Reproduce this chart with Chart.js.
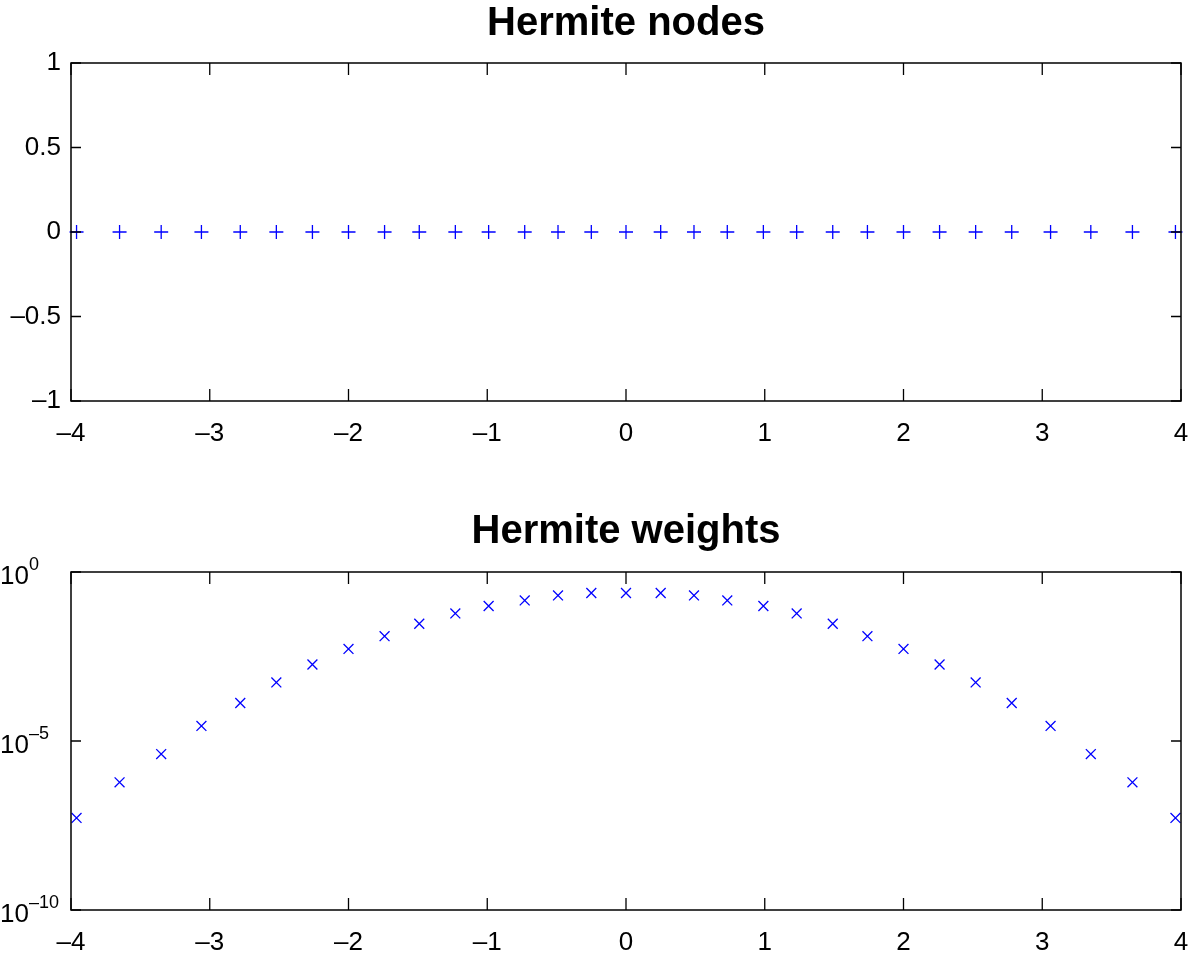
<!DOCTYPE html>
<html>
<head>
<meta charset="utf-8">
<title>Hermite nodes and weights</title>
<script src="https://cdn.jsdelivr.net/npm/chart.js@4.4.0/dist/chart.umd.min.js"></script>
<style>
  html, body { margin: 0; padding: 0; background: #fff; }
  .panel { position: absolute; left: 0; width: 1194px; }
  #nodesPanel { top: 0; height: 470px; }
  #weightsPanel { top: 470px; height: 489px; }
</style>
</head>
<body>
<div class="panel" id="nodesPanel"><canvas id="nodesChart"></canvas></div>
<div class="panel" id="weightsPanel"><canvas id="weightsChart"></canvas></div>
<script>
// quadrature nodes (31 points) and their weights
const nodes = [-3.96, -3.65, -3.35, -3.06, -2.78, -2.52, -2.26, -2.00, -1.74, -1.49, -1.23,
               -0.99, -0.73, -0.49, -0.25, 0, 0.25, 0.49, 0.73, 0.99, 1.23, 1.49, 1.74,
               2.00, 2.26, 2.52, 2.78, 3.06, 3.35, 3.65, 3.96];
const nodeLevel = [0, 0, 0, 0, 0, 0, 0, 0, 0, 0, 0, 0, 0, 0, 0, 0,
                   0, 0, 0, 0, 0, 0, 0, 0, 0, 0, 0, 0, 0, 0, 0];
const weights = [5.3e-8, 6.0e-7, 4.1e-6, 2.8e-5, 1.33e-4, 5.4e-4, 1.83e-3, 5.3e-3, 1.26e-2,
                 2.95e-2, 5.96e-2, 9.86e-2, 0.144, 0.203, 0.239, 0.239, 0.239, 0.203, 0.144,
                 9.86e-2, 5.96e-2, 2.95e-2, 1.26e-2, 5.3e-3, 1.83e-3, 5.4e-4, 1.33e-4,
                 2.8e-5, 4.1e-6, 6.0e-7, 5.3e-8];

const xTicks = [-4, -3, -2, -1, 0, 1, 2, 3, 4];
const nodeYTicks = [-1, -0.5, 0, 0.5, 1];
const weightExponents = [-10, -5, 0];

const FONT = "'Liberation Sans', Arial, Helvetica, sans-serif";
const BLUE = "#0000ff";
const MINUS = "\u2013";

function fmt(v) {
  return v < 0 ? MINUS + Math.abs(v) : String(v);
}

// frame round the plot area, ticks pointing inward on all four edges
const boxAxes = {
  id: "boxAxes",
  afterDraw(chart) {
    const { ctx, chartArea: a, scales } = chart;
    ctx.save();
    ctx.strokeStyle = "#000";
    ctx.lineWidth = 1.3;
    ctx.beginPath();
    scales.x.ticks.forEach(t => {
      const px = scales.x.getPixelForValue(t.value);
      ctx.moveTo(px, a.bottom); ctx.lineTo(px, a.bottom - 12);
      ctx.moveTo(px, a.top); ctx.lineTo(px, a.top + 12);
    });
    scales.y.ticks.forEach(t => {
      const py = scales.y.getPixelForValue(t.value);
      ctx.moveTo(a.left, py); ctx.lineTo(a.left + 10, py);
      ctx.moveTo(a.right, py); ctx.lineTo(a.right - 10, py);
    });
    ctx.stroke();
    ctx.lineWidth = 1.5;
    ctx.strokeRect(a.left, a.top, a.right - a.left, a.bottom - a.top);
    ctx.restore();
  }
};

// "10" with a raised exponent for the log axis
const powerLabels = {
  id: "powerLabels",
  afterDraw(chart) {
    const { ctx, scales } = chart;
    ctx.save();
    ctx.fillStyle = "#000";
    ctx.textBaseline = "middle";
    weightExponents.forEach(e => {
      const py = scales.y.getPixelForValue(Math.pow(10, e));
      ctx.font = "26px " + FONT;
      ctx.textAlign = "right";
      ctx.fillText("10", 29, py + 5);
      ctx.font = "18px " + FONT;
      ctx.textAlign = "left";
      ctx.fillText(e < 0 ? MINUS + Math.abs(e) : String(e), 29, py - 7);
    });
    ctx.restore();
  }
};

const xAxis = {
  type: "linear",
  min: -4,
  max: 4,
  afterBuildTicks: s => { s.ticks = xTicks.map(v => ({ value: v })); },
  afterFit: s => {
    s.height = 48;
    s.paddingLeft = 0;
    s.paddingRight = 0;
  },
  grid: { display: false, drawTicks: false },
  border: { display: false },
  ticks: {
    padding: 17,
    color: "#000",
    autoSkip: false,
    maxRotation: 0,
    font: { family: FONT, size: 26 },
    callback: fmt
  }
};

// title box spans the plot area only, so the text sits centred over the axes
function titleFor(text, padTop, padBottom) {
  return {
    display: true,
    fullSize: false,
    text: text,
    color: "#000",
    font: { family: FONT, size: 40, weight: "bold" },
    padding: { top: padTop, bottom: padBottom }
  };
}

new Chart(document.getElementById("nodesChart"), {
  type: "scatter",
  data: {
    datasets: [{
      label: "nodes",
      data: nodes.map((x, i) => ({ x: x, y: nodeLevel[i] })),
      pointStyle: "cross",
      pointRadius: 7,
      borderColor: BLUE,
      backgroundColor: BLUE,
      borderWidth: 1.3,
      clip: false
    }]
  },
  options: {
    responsive: true,
    maintainAspectRatio: false,
    animation: false,
    layout: { padding: { left: 0, right: 13, top: 0, bottom: 21 } },
    plugins: {
      legend: { display: false },
      tooltip: { enabled: false },
      title: titleFor("Hermite nodes", 0, 15)
    },
    scales: {
      x: xAxis,
      y: {
        type: "linear",
        min: -1,
        max: 1,
        afterBuildTicks: s => { s.ticks = nodeYTicks.map(v => ({ value: v })); },
        afterFit: s => { s.width = 71; },
        grid: { display: false, drawTicks: false },
        border: { display: false },
        ticks: {
          padding: 10,
          color: "#000",
          font: { family: FONT, size: 26 },
          callback: fmt
        }
      }
    }
  },
  plugins: [boxAxes]
});

new Chart(document.getElementById("weightsChart"), {
  type: "scatter",
  data: {
    datasets: [{
      label: "weights",
      data: nodes.map((x, i) => ({ x: x, y: weights[i] })),
      pointStyle: "crossRot",
      pointRadius: 7,
      borderColor: BLUE,
      backgroundColor: BLUE,
      borderWidth: 1.3,
      clip: false
    }]
  },
  options: {
    responsive: true,
    maintainAspectRatio: false,
    animation: false,
    layout: { padding: { left: 0, right: 13, top: 0, bottom: 1 } },
    plugins: {
      legend: { display: false },
      tooltip: { enabled: false },
      title: titleFor("Hermite weights", 38, 16)
    },
    scales: {
      x: xAxis,
      y: {
        type: "logarithmic",
        min: 1e-10,
        max: 1,
        afterBuildTicks: s => { s.ticks = weightExponents.map(e => ({ value: Math.pow(10, e) })); },
        afterFit: s => { s.width = 71; },
        grid: { display: false, drawTicks: false },
        border: { display: false },
        ticks: { display: false }
      }
    }
  },
  plugins: [boxAxes, powerLabels]
});
</script>
</body>
</html>
